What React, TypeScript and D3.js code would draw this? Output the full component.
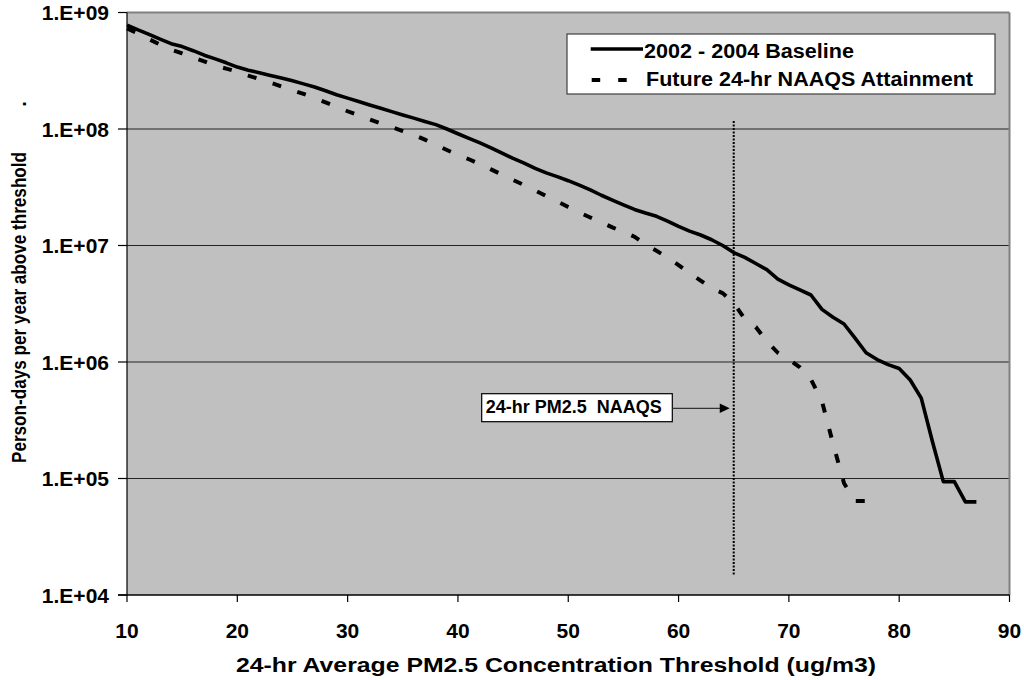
import React from "react";
import * as d3 from "d3";

const thresholds = [
  10, 11, 12, 13, 14, 15, 16, 17, 18, 19, 20, 21, 22, 23, 24, 25, 26, 27, 28, 29,
  30, 31, 32, 33, 34, 35, 36, 37, 38, 39, 40, 41, 42, 43, 44, 45, 46, 47, 48, 49,
  50, 51, 52, 53, 54, 55, 56, 57, 58, 59, 60, 61, 62, 63, 64, 65, 66, 67, 68, 69,
  70, 71, 72, 73, 74, 75, 76, 77, 78, 79, 80, 81, 82, 83, 84, 85, 86, 87,
];

const baseline = [
  7.8e8, 7.1e8, 6.5e8, 5.9e8, 5.4e8, 5.1e8, 4.7e8, 4.3e8, 4.0e8, 3.7e8,
  3.4e8, 3.2e8, 3.04e8, 2.88e8, 2.74e8, 2.59e8, 2.44e8, 2.29e8, 2.13e8, 1.97e8,
  1.84e8, 1.72e8, 1.61e8, 1.51e8, 1.41e8, 1.32e8, 1.24e8, 1.16e8, 1.09e8, 1.0e8,
  9.1e7, 8.3e7, 7.6e7, 6.9e7, 6.2e7, 5.6e7, 5.1e7, 4.6e7, 4.2e7, 3.9e7,
  3.6e7, 3.3e7, 3.0e7, 2.7e7, 2.45e7, 2.23e7, 2.04e7, 1.9e7, 1.78e7, 1.62e7,
  1.46e7, 1.33e7, 1.23e7, 1.12e7, 1.0e7, 8.7e6, 7.9e6, 7.0e6, 6.2e6, 5.15e6,
  4.6e6, 4.15e6, 3.76e6, 2.83e6, 2.42e6, 2.12e6, 1.6e6, 1.2e6, 1.05e6, 9.5e5,
  8.8e5, 7.0e5, 4.9e5, 2.1e5, 9.4e4, 9.4e4, 6.3e4, 6.3e4,
];

const future = [
  7.3e8, 6.6e8, 5.9e8, 5.3e8, 4.8e8, 4.45e8, 4.1e8, 3.8e8, 3.5e8, 3.3e8,
  3.1e8, 2.87e8, 2.68e8, 2.5e8, 2.32e8, 2.15e8, 2.0e8, 1.85e8, 1.69e8, 1.55e8,
  1.42e8, 1.31e8, 1.21e8, 1.12e8, 1.04e8, 9.6e7, 8.9e7, 8.1e7, 7.3e7, 6.6e7,
  6.0e7, 5.5e7, 5.0e7, 4.5e7, 4.05e7, 3.65e7, 3.3e7, 2.97e7, 2.66e7, 2.39e7,
  2.14e7, 1.92e7, 1.74e7, 1.58e7, 1.43e7, 1.31e7, 1.19e7, 1.02e7, 9.0e6, 7.9e6,
  6.8e6, 5.8e6, 5.0e6, 4.3e6, 3.9e6, 3.2e6, 2.35e6, 2.0e6, 1.5e6, 1.2e6,
  1.05e6, 9.0e5, 7.1e5, 4.6e5, 2.0e5, 9.1e4, 6.4e4, 6.4e4,
];

const xTicks = [10, 20, 30, 40, 50, 60, 70, 80, 90];
const yTicks = [1e4, 1e5, 1e6, 1e7, 1e8, 1e9];
const yTickLabels = ["1.E+04", "1.E+05", "1.E+06", "1.E+07", "1.E+08", "1.E+09"];
const naaqsValue = 65;
const seriesNames = ["2002 - 2004 Baseline", "Future 24-hr NAAQS Attainment"];
const xTitle = "24-hr Average PM2.5 Concentration Threshold (ug/m3)";
const yTitle = "Person-days per year above threshold";
const annotation = "24-hr PM2.5  NAAQS";

const FONT = "'Liberation Sans', Arial, Helvetica, sans-serif";

export default function App() {
  const left = 127;
  const right = 1009.5;
  const top = 12.5;
  const bottom = 595;
  const x = d3.scaleLinear().domain([10, 90]).range([left, right]);
  const y = d3.scaleLog().domain([1e4, 1e9]).range([bottom, top]);

  const line = d3
    .line<number>()
    .x((_, i) => x(thresholds[i]))
    .y((d) => y(d));

  const basePath = line(baseline) || "";
  const futPath = line(future) || "";
  const nx = x(naaqsValue);

  return (
    <svg
      width={1024}
      height={680}
      style={{ position: "absolute", left: 0, top: 0, background: "#fff" }}
      fontFamily={FONT}
      fontWeight="bold"
    >
      <rect x={left} y={top} width={right - left} height={bottom - top} fill="#C0C0C0" />
      {yTicks.slice(1, -1).map((t) => (
        <line key={t} x1={left} x2={right} y1={y(t)} y2={y(t)} stroke="#222" strokeWidth={1.2} />
      ))}
      {/* plot border */}
      <line x1={left} x2={right} y1={top} y2={top} stroke="#808080" strokeWidth={2} />
      <line x1={right} x2={right} y1={top} y2={bottom} stroke="#808080" strokeWidth={2} />
      <line x1={left} x2={left} y1={top} y2={bottom} stroke="#000" strokeWidth={1.2} />
      <line x1={left - 9} x2={right} y1={bottom} y2={bottom} stroke="#000" strokeWidth={1.5} />

      {/* y ticks */}
      {yTicks.map((t, i) => (
        <g key={t}>
          <line x1={left - 9} x2={left} y1={y(t)} y2={y(t)} stroke="#000" strokeWidth={1.2} />
          <text x={109} y={y(t)} dy="0.37em" textAnchor="end" fontSize={21} fill="#000">
            {yTickLabels[i]}
          </text>
        </g>
      ))}
      {/* x ticks */}
      {xTicks.map((t) => (
        <g key={t}>
          <line x1={x(t)} x2={x(t)} y1={bottom} y2={bottom + 7} stroke="#000" strokeWidth={1.2} />
          <text x={x(t)} y={637.5} textAnchor="middle" fontSize={21} fill="#000">
            {t}
          </text>
        </g>
      ))}

      {/* axis titles */}
      <text
        x={556}
        y={672}
        textAnchor="middle"
        fontSize={20}
        textLength={640}
        lengthAdjust="spacingAndGlyphs"
        fill="#000"
      >
        {xTitle}
      </text>
      <text
        transform={`translate(26,307.5) rotate(-90)`}
        textAnchor="middle"
        fontSize={20}
        textLength={311}
        lengthAdjust="spacingAndGlyphs"
        fill="#000"
      >
        {yTitle}
      </text>
      <text transform={`translate(26,104) rotate(-90)`} textAnchor="middle" fontSize={20} fill="#000">
        .
      </text>

      {/* NAAQS line */}
      <line x1={nx} x2={nx} y1={121} y2={575} stroke="#000" strokeWidth={2} strokeDasharray="2 1.5" />

      {/* series */}
      <path d={basePath} fill="none" stroke="#000" strokeWidth={3.6} strokeLinejoin="round" />
      <path d={futPath} fill="none" stroke="#000" strokeWidth={4} strokeDasharray="9 17" />

      {/* annotation */}
      <rect x={481.7} y={393.7} width={190.6} height={28} fill="#fff" stroke="#000" strokeWidth={1.2} />
      <text
        x={485.7}
        y={413}
        fontSize={18.5}
        textLength={176}
        lengthAdjust="spacingAndGlyphs"
        fill="#000"
        style={{ whiteSpace: "pre" }}
      >
        {annotation}
      </text>
      <line x1={672.3} x2={722} y1={408.3} y2={408.3} stroke="#333" strokeWidth={1.2} />
      <path d={`M ${nx - 4} 408.3 L ${nx - 14} 403.5 L ${nx - 14} 413.1 Z`} fill="#000" />

      {/* legend */}
      <rect x={567} y={34} width={428} height={60} fill="#fff" stroke="#404040" strokeWidth={1.2} />
      <line x1={590.7} x2={643} y1={49} y2={49} stroke="#000" strokeWidth={3.6} />
      <line x1={591.7} x2={630} y1={80} y2={80} stroke="#000" strokeWidth={4} strokeDasharray="8.5 18" />
      <text x={644} y={58} fontSize={19.5} textLength={210} lengthAdjust="spacingAndGlyphs" fill="#000">
        {seriesNames[0]}
      </text>
      <text x={646} y={86} fontSize={19.5} textLength={327} lengthAdjust="spacingAndGlyphs" fill="#000">
        {seriesNames[1]}
      </text>
    </svg>
  );
}
